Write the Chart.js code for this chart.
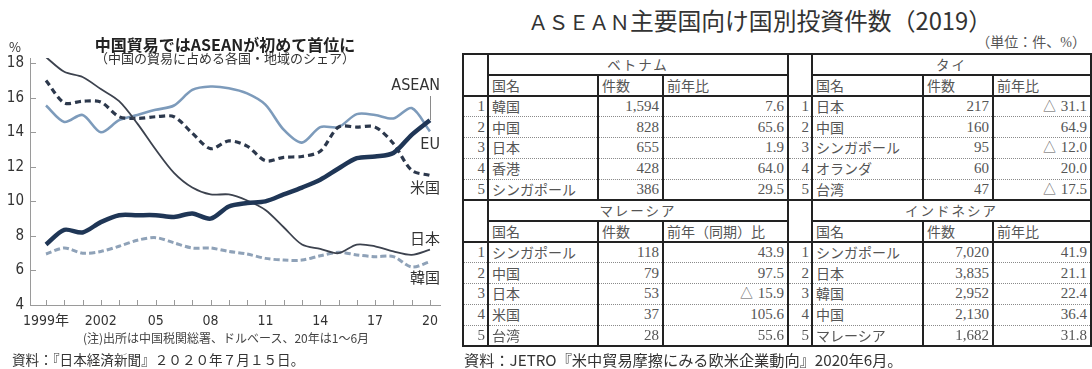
<!DOCTYPE html>
<html lang="ja">
<head>
<meta charset="utf-8">
<script src="https://cdn.jsdelivr.net/npm/chart.js@4.4.1/dist/chart.umd.min.js"></script>
<style>
  html, body { margin: 0; padding: 0; background: #fff; }
  body { width: 1092px; height: 369px; overflow: hidden; position: relative;
         font-family: "Noto Sans CJK JP", sans-serif; color: #333; }
  #tradeCanvas { position: absolute; left: 0; top: 0; }
  .txt { position: absolute; white-space: nowrap; }
  #chartTitle { left: 0; width: 450px; top: 34px; text-align: center; font-weight: bold;
                font-size: 16px; line-height: 20px; color: #222; }
  #chartSub { left: 0; width: 450px; top: 50px; text-align: center; font-size: 13px;
              line-height: 16px; color: #333; }
  #pct { left: 9px; top: 39px; font-size: 13px; line-height: 16px; color: #333; }
  #chartNote { left: 0; width: 452px; top: 330px; text-align: center; font-size: 12px;
               line-height: 16px; color: #444; }
  #srcLeft { left: 12px; top: 350px; font-size: 13.6px; line-height: 18px; color: #333; }
  #tblTitle { left: 455px; width: 610px; top: 6px; text-align: center; font-size: 23.8px;
              line-height: 28px; color: #333; }
  #tblTitle .fw { font-size: 20.4px; }
  #unit { right: 6px; top: 35px; font-size: 14px; line-height: 16px; color: #555;
          font-family: "Liberation Serif", "Noto Sans CJK JP", serif; }
  #srcRight { left: 464px; top: 350px; font-size: 15.2px; line-height: 18px; color: #333; }

  #invTable { position: absolute; left: 462px; top: 53px; width: 628px; height: 292px;
              border-collapse: collapse; table-layout: fixed; color: #555;
              border: 2px solid #222; }
  #invTable tr { height: 20.86px; }
  #invTable td { padding: 0 3px; line-height: 15px; font-size: 14px;
                 border: 2px solid #222; overflow: hidden; white-space: nowrap;
                 vertical-align: middle; }
  #invTable td.grp { text-align: center; letter-spacing: 2px; font-size: 13.5px; }
  #invTable td.hd { text-align: left; }
  #invTable td.num { text-align: right; font-family: "Liberation Serif", serif; font-size: 15px; }
  #invTable td.rk { text-align: right; padding: 0 2px; font-family: "Liberation Serif", serif; font-size: 15px; }
  #invTable tr.dr td { border-top: 1px dotted #8a8a8a; border-bottom: 1px dotted #8a8a8a; }
  #invTable tr.dr.first td { border-top: 2px solid #222; }
  #invTable tr.dr.last td { border-bottom: 2px solid #222; }
</style>
</head>
<body>
<canvas id="tradeCanvas" width="450" height="369"></canvas>
<div class="txt" id="chartTitle">中国貿易ではASEANが初めて首位に</div>
<div class="txt" id="chartSub">（中国の貿易に占める各国・地域のシェア）</div>
<div class="txt" id="pct">%</div>
<div class="txt" id="chartNote">(注)出所は中国税関総署、ドルベース、20年は1～6月</div>
<div class="txt" id="srcLeft">資料：『日本経済新聞』２０２０年７月１５日。</div>

<div class="txt" id="tblTitle"><span class="fw">ＡＳＥＡＮ</span>主要国向け国別投資件数（2019）</div>
<div class="txt" id="unit">（単位：件、%）</div>
<table id="invTable"></table>
<div class="txt" id="srcRight">資料：JETRO『米中貿易摩擦にみる欧米企業動向』2020年6月。</div>

<script>
// ---- China's trade: share by partner (%) ----
const years = [1999, 2000, 2001, 2002, 2003, 2004, 2005, 2006, 2007, 2008, 2009,
               2010, 2011, 2012, 2013, 2014, 2015, 2016, 2017, 2018, 2019, 2020];
const aseanShare = [7.5, 8.35, 8.2, 8.8, 9.2, 9.2, 9.2, 9.1, 9.3, 9.0, 9.7,
                    9.9, 10.0, 10.4, 10.8, 11.25, 11.9, 12.5, 12.6, 12.8, 13.85, 14.7];
const euShare    = [15.55, 14.6, 15.0, 14.0, 14.7, 15.0, 15.3, 15.55, 16.45, 16.65, 16.55,
                    16.25, 15.6, 14.15, 13.4, 14.3, 14.3, 15.05, 15.0, 14.8, 15.4, 14.05];
const usShare    = [17.0, 15.7, 15.8, 15.75, 14.9, 14.8, 14.9, 14.9, 13.95, 13.05, 13.5,
                    13.2, 12.35, 12.55, 12.6, 12.9, 14.3, 14.3, 14.3, 13.35, 11.8, 11.5];
const japanShare = [18.35, 17.5, 17.2, 16.5, 15.8, 14.5, 13.0, 11.65, 10.8, 10.4, 10.4,
                    10.05, 9.5, 8.5, 7.5, 7.25, 7.0, 7.5, 7.4, 7.1, 6.9, 7.2];
const koreaShare = [6.95, 7.3, 7.0, 7.1, 7.4, 7.75, 7.9, 7.6, 7.3, 7.3, 7.1,
                    6.95, 6.7, 6.6, 6.6, 6.85, 7.05, 6.9, 6.8, 6.8, 6.2, 6.5];

const xTickYears  = [1999, 2002, 2005, 2008, 2011, 2014, 2017, 2020];
const xTickLabels = ['1999年', '2002', '05', '08', '11', '14', '17', '20'];

// ---- ASEAN investment cases by source country (2019) ----
const vnNames  = ['韓国', '中国', '日本', '香港', 'シンガポール'];
const vnCases  = [1594, 828, 655, 428, 386];
const vnChange = [7.6, 65.6, 1.9, 64.0, 29.5];

const thNames  = ['日本', '中国', 'シンガポール', 'オランダ', '台湾'];
const thCases  = [217, 160, 95, 60, 47];
const thChange = [-31.1, 64.9, -12.0, 20.0, -17.5];

const myNames  = ['シンガポール', '中国', '日本', '米国', '台湾'];
const myCases  = [118, 79, 53, 37, 28];
const myChange = [43.9, 97.5, -15.9, 105.6, 55.6];

const idNames  = ['シンガポール', '日本', '韓国', '中国', 'マレーシア'];
const idCases  = [7020, 3835, 2952, 2130, 1682];
const idChange = [41.9, 21.1, 22.4, 36.4, 31.8];

// ---------------- line chart ----------------
const numFont = "'Liberation Sans Narrow', 'DejaVu Sans Condensed', 'Noto Sans CJK JP', sans-serif";
const pts = arr => years.map((yr, i) => ({ x: yr, y: arr[i] }));

// small inward tick marks on both axes
const axisMarks = {
  id: 'axisMarks',
  beforeDatasetsDraw(chart) {
    const { ctx, chartArea: a, scales: { x, y } } = chart;
    ctx.save();
    ctx.strokeStyle = '#9a9a9a';
    ctx.lineWidth = 1;
    ctx.beginPath();
    x.ticks.forEach(t => {
      const px = Math.round(x.getPixelForValue(t.value)) + 0.5;
      ctx.moveTo(px, a.bottom);
      ctx.lineTo(px, a.bottom - 5);
    });
    y.ticks.forEach(t => {
      if (t.value === y.min) return;
      const py = Math.round(y.getPixelForValue(t.value)) + 0.5;
      ctx.moveTo(a.left, py);
      ctx.lineTo(a.left + 6, py);
    });
    ctx.stroke();
    ctx.restore();
  }
};

// series names at the right end of the lines
const seriesNames = {
  id: 'seriesNames',
  afterDatasetsDraw(chart, args, opts) {
    const { ctx, chartArea: a, scales: { x, y } } = chart;
    ctx.save();
    ctx.fillStyle = '#333';
    ctx.textAlign = 'right';
    ctx.textBaseline = 'middle';
    opts.items.forEach(it => {
      ctx.font = (it.latin ? '16px ' + numFont : '15px "Noto Sans CJK JP", sans-serif');
      ctx.fillText(it.text, a.right, y.getPixelForValue(it.at));
    });
    // leader from the ASEAN name down to the end of its line
    const lx = Math.round(x.getPixelForValue(years[years.length - 1])) + 0.5;
    ctx.strokeStyle = '#8a8a8a';
    ctx.lineWidth = 1;
    ctx.beginPath();
    ctx.moveTo(lx, y.getPixelForValue(opts.leaderFrom));
    ctx.lineTo(lx, y.getPixelForValue(aseanShare[aseanShare.length - 1]));
    ctx.stroke();
    ctx.restore();
  }
};

new Chart(document.getElementById('tradeCanvas'), {
  type: 'line',
  data: {
    datasets: [
      { label: 'ASEAN', data: pts(aseanShare), borderColor: '#1f3656', borderWidth: 4.5, order: 0 },
      { label: '日本', data: pts(japanShare), borderColor: '#3c424e', borderWidth: 1.8, order: 1 },
      { label: '米国', data: pts(usShare), borderColor: '#2c384c', borderWidth: 3.2, borderDash: [6, 4], order: 2 },
      { label: 'EU', data: pts(euShare), borderColor: '#7d9bbb', borderWidth: 2.6, order: 3 },
      { label: '韓国', data: pts(koreaShare), borderColor: '#8fa2b8', borderWidth: 3, borderDash: [6, 3], order: 4 }
    ]
  },
  options: {
    responsive: false,
    animation: false,
    elements: { point: { radius: 0 }, line: { tension: 0.3, borderCapStyle: 'butt', fill: false } },
    layout: { padding: { left: 0, right: 10, top: 58, bottom: 34 } },
    plugins: {
      legend: { display: false },
      tooltip: { enabled: false },
      seriesNames: {
        items: [
          { text: 'ASEAN', at: 16.7, latin: true },
          { text: 'EU', at: 13.28, latin: true },
          { text: '米国', at: 10.84 },
          { text: '日本', at: 7.88 },
          { text: '韓国', at: 5.62 }
        ],
        leaderFrom: 16.1
      }
    },
    scales: {
      x: {
        type: 'linear',
        min: 1998.125,
        max: 2020.55,
        afterBuildTicks: s => { s.ticks = years.map(v => ({ value: v })); },
        afterFit: s => { s.height = 30; },
        grid: { display: false, drawTicks: false },
        border: { display: true, color: '#9a9a9a', width: 1 },
        ticks: {
          autoSkip: false, maxRotation: 0, minRotation: 0, padding: 8,
          color: '#333', font: { family: numFont, size: 14 },
          callback: v => {
            const k = xTickYears.indexOf(v);
            return k >= 0 ? xTickLabels[k] : '';
          }
        }
      },
      y: {
        min: 4,
        max: 18.3,
        afterFit: s => { s.width = 30; },
        grid: { display: false, drawTicks: false },
        border: { display: true, color: '#9a9a9a', width: 1 },
        ticks: { stepSize: 2, includeBounds: false, padding: 6, color: '#333',
                 font: { family: numFont, size: 15 } }
      }
    }
  },
  plugins: [axisMarks, seriesNames]
});

// ---------------- investment table ----------------
const fmtCases = n => n.toLocaleString('en-US');
const fmtChange = v => (v < 0 ? '△ ' + Math.abs(v).toFixed(1) : v.toFixed(1));

const cols = [25, 110, 65, 125, 24, 111, 70, 98];
const tbl = document.getElementById('invTable');
const cg = document.createElement('colgroup');
cols.forEach(w => { const c = document.createElement('col'); c.style.width = w + 'px'; cg.appendChild(c); });
tbl.appendChild(cg);

function cell(tr, text, cls, attrs) {
  const td = document.createElement('td');
  if (cls) td.className = cls;
  td.textContent = text;
  if (attrs) Object.keys(attrs).forEach(k => td.setAttribute(k, attrs[k]));
  tr.appendChild(td);
  return td;
}

function block(left, right) {
  let tr = document.createElement('tr');
  cell(tr, '', '', { rowspan: 2 });
  cell(tr, left.title, 'grp', { colspan: 3 });
  cell(tr, '', '', { rowspan: 2 });
  cell(tr, right.title, 'grp', { colspan: 3 });
  tbl.appendChild(tr);
  tr = document.createElement('tr');
  cell(tr, '国名', 'hd'); cell(tr, '件数', 'hd'); cell(tr, left.changeHead, 'hd');
  cell(tr, '国名', 'hd'); cell(tr, '件数', 'hd'); cell(tr, right.changeHead, 'hd');
  tbl.appendChild(tr);
  for (let i = 0; i < 5; i++) {
    tr = document.createElement('tr');
    tr.className = 'dr' + (i === 0 ? ' first' : '') + (i === 4 ? ' last' : '');
    [left, right].forEach(b => {
      cell(tr, String(i + 1), 'rk');
      cell(tr, b.names[i], '');
      cell(tr, fmtCases(b.cases[i]), 'num');
      cell(tr, fmtChange(b.change[i]), 'num');
    });
    tbl.appendChild(tr);
  }
}

block({ title: 'ベトナム', changeHead: '前年比', names: vnNames, cases: vnCases, change: vnChange },
      { title: 'タイ', changeHead: '前年比', names: thNames, cases: thCases, change: thChange });
block({ title: 'マレーシア', changeHead: '前年（同期）比', names: myNames, cases: myCases, change: myChange },
      { title: 'インドネシア', changeHead: '前年比', names: idNames, cases: idCases, change: idChange });
</script>
</body>
</html>
